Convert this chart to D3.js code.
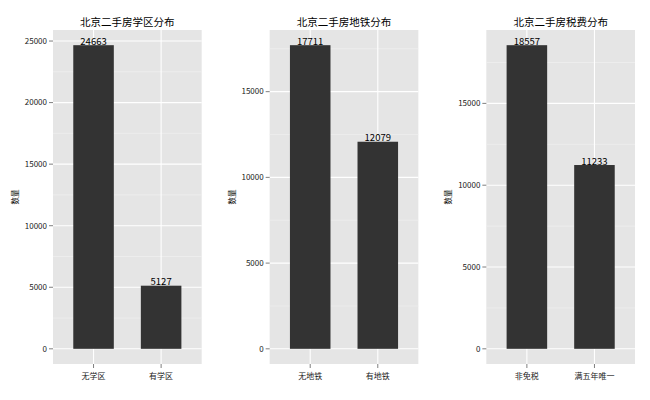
<!DOCTYPE html>
<html>
<head>
<meta charset="utf-8">
<script src="https://cdn.jsdelivr.net/npm/d3@7"></script>
<style>
  body { margin: 0; background: #fff; }
  svg { font-family: "Noto Sans CJK SC", "DejaVu Sans", sans-serif; }
</style>
</head>
<body>
<svg id="chart" width="650" height="400"></svg>
<script>
// 三个子图的数据
const titles = ['北京二手房学区分布', '北京二手房地铁分布', '北京二手房税费分布'];
const schoolCats = ['无学区', '有学区'];
const schoolVals = [24663, 5127];
const subwayCats = ['无地铁', '有地铁'];
const subwayVals = [17711, 12079];
const taxCats = ['非免税', '满五年唯一'];
const taxVals = [18557, 11233];
const yLabel = '数量';

const panels = [
  { title: titles[0], cats: schoolCats, vals: schoolVals },
  { title: titles[1], cats: subwayCats, vals: subwayVals },
  { title: titles[2], cats: taxCats, vals: taxVals }
];

const svg = d3.select('#chart');
const W = 650 / 3;
const m = { left: 53, right: 15, top: 30, bottom: 36 };
const pw = W - m.left - m.right;
const ph = 400 - m.top - m.bottom;

panels.forEach((p, i) => {
  const g = svg.append('g').attr('transform', `translate(${i * W + m.left},${m.top})`);

  const maxV = d3.max(p.vals);
  const y = d3.scaleLinear().domain([-0.05 * maxV, 1.05 * maxV]).range([ph, 0]);
  // ggplot 风格的离散轴：两边各留 0.6
  const x = d3.scaleLinear().domain([0.4, p.cats.length + 0.6]).range([0, pw]);

  g.append('rect').attr('width', pw).attr('height', ph).attr('fill', '#e5e5e5');

  const ticks = y.ticks(5);
  const step = ticks[1] - ticks[0];
  const minor = [];
  for (let v = ticks[0] - step / 2; v <= y.domain()[1]; v += step) {
    if (v >= y.domain()[0]) minor.push(v);
  }
  g.selectAll('.minor').data(minor).enter().append('line')
    .attr('x1', 0).attr('x2', pw)
    .attr('y1', d => y(d)).attr('y2', d => y(d))
    .attr('stroke', '#f2f2f2').attr('stroke-width', 0.6);
  g.selectAll('.major').data(ticks).enter().append('line')
    .attr('x1', 0).attr('x2', pw)
    .attr('y1', d => y(d)).attr('y2', d => y(d))
    .attr('stroke', '#fff').attr('stroke-width', 1.1);
  g.selectAll('.vmajor').data(p.cats).enter().append('line')
    .attr('x1', (d, j) => x(j + 1)).attr('x2', (d, j) => x(j + 1))
    .attr('y1', 0).attr('y2', ph)
    .attr('stroke', '#fff').attr('stroke-width', 1.1);

  // 柱子
  g.selectAll('.bar').data(p.vals).enter().append('rect')
    .attr('x', (d, j) => x(j + 1 - 0.3))
    .attr('width', x(1.3) - x(0.7))
    .attr('y', d => y(d))
    .attr('height', d => y(0) - y(d))
    .attr('fill', '#333333');

  g.selectAll('.lbl').data(p.vals).enter().append('text')
    .attr('x', (d, j) => x(j + 1))
    .attr('y', d => y(d) - 0.5)
    .attr('text-anchor', 'middle')
    .attr('font-size', 9.5)
    .attr('fill', '#000')
    .text(d => d);

  // y 轴
  const ya = g.append('g');
  ya.selectAll('line').data(ticks).enter().append('line')
    .attr('x1', -4).attr('x2', 0)
    .attr('y1', d => y(d)).attr('y2', d => y(d))
    .attr('stroke', '#7f7f7f');
  ya.selectAll('text').data(ticks).enter().append('text')
    .attr('x', -6).attr('y', d => y(d)).attr('dy', '0.35em')
    .attr('text-anchor', 'end').attr('font-size', 8).attr('fill', '#222')
    .text(d => d);

  // x 轴
  const xa = g.append('g').attr('transform', `translate(0,${ph})`);
  xa.selectAll('line').data(p.cats).enter().append('line')
    .attr('x1', (d, j) => x(j + 1)).attr('x2', (d, j) => x(j + 1))
    .attr('y1', 0).attr('y2', 4)
    .attr('stroke', '#7f7f7f');
  xa.selectAll('text').data(p.cats).enter().append('text')
    .attr('x', (d, j) => x(j + 1)).attr('y', 15)
    .attr('text-anchor', 'middle').attr('font-size', 8).attr('fill', '#222')
    .text(d => d);

  g.append('text')
    .attr('x', pw / 2).attr('y', -4)
    .attr('text-anchor', 'middle').attr('font-size', 10.5).attr('fill', '#000')
    .text(p.title);

  g.append('text')
    .attr('transform', `translate(${-m.left + 18},${ph / 2}) rotate(-90)`)
    .attr('text-anchor', 'middle').attr('font-size', 7.5).attr('fill', '#000')
    .text(yLabel);
});
</script>
</body>
</html>
